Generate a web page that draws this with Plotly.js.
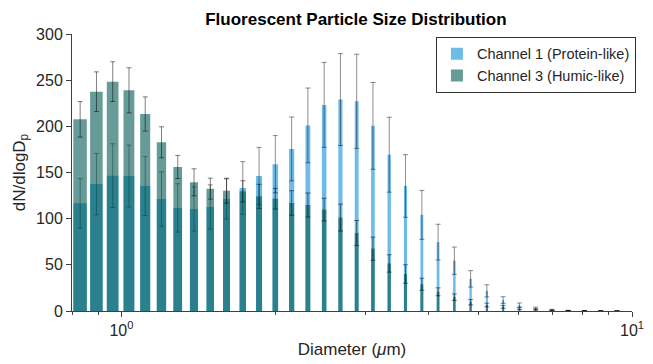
<!DOCTYPE html>
<html>
<head>
<meta charset="utf-8">
<script src="https://cdn.plot.ly/plotly-3.0.1.min.js"></script>
<style>html,body{margin:0;padding:0;background:#fff;}#chart{width:653px;height:364px;}</style>
</head>
<body>
<div id="chart"></div>
<script>
// Bin centre diameters (µm)
const diameters = [0.830, 0.8934, 0.9613, 1.0345, 1.1131, 1.1979, 1.2890, 1.3871, 1.4927, 1.6063,
  1.7284, 1.8600, 2.0015, 2.1544, 2.3182, 2.4947, 2.6846, 2.8889, 3.1088, 3.3454,
  3.6000, 3.8759, 4.1703, 4.4878, 4.8295, 5.1971, 5.5926, 6.0183, 6.4763, 6.9693,
  7.4989, 8.0698, 8.6842, 9.3457];

// Channel 1 (Protein-like) mean dN/dlogDp and error
const ch1Values = [116.6, 137.5, 146.6, 146.2, 135.4, 121.3, 111.6, 110.5, 112.6, 121.3,
  133.2, 146.2, 159.0, 175.5, 201.0, 223.2, 229.0, 227.1, 200.5, 169.3,
  135.4, 104.1, 74.6, 54.5, 34.8, 21.8, 11.9, 6.5, 3.2, 1.3,
  0.6, 0.4, 0.3, 0.2];
const ch1Errors = [26.7, 33.2, 34.5, 33.5, 32.0, 29.5, 26.2, 24.0, 24.0, 21.8,
  28.5, 31.0, 31.0, 34.6, 40.5, 46.0, 49.8, 51.0, 47.0, 40.6,
  33.9, 26.5, 19.4, 14.8, 8.9, 6.6, 3.6, 2.2, 1.0, 0.5,
  0.2, 0.15, 0.1, 0.1];

// Channel 3 (Humic-like) mean dN/dlogDp and error
const ch3Values = [207.6, 237.5, 248.4, 239.0, 213.4, 182.7, 156.0, 139.4, 132.5, 130.3,
  129.6, 124.2, 121.6, 117.0, 114.8, 109.8, 101.2, 84.5, 67.5, 51.5,
  40.1, 29.0, 20.8, 15.0, 9.5, 6.5, 4.5, 2.5, 1.5, 0.8,
  0.4, 0.2, 0.1, 0.1];
const ch3Errors = [19.3, 21.5, 21.5, 24.4, 18.5, 16.8, 12.5, 14.6, 11.4, 13.5,
  11.5, 13.0, 11.2, 13.3, 13.0, 12.3, 14.6, 13.5, 12.5, 9.4,
  10.0, 6.5, 4.3, 3.5, 2.9, 2.0, 1.5, 1.0, 0.6, 0.3,
  0.15, 0.1, 0.05, 0.05];

const seriesNames = ['Channel 1 (Protein-like)', 'Channel 3 (Humic-like)'];
const xTickVals = [1, 10];
const xTickText = ['10<sup>0</sup>', '10<sup>1</sup>'];
const xMinorVals = [0.8, 0.9, 2, 3, 4, 5, 6, 7, 8, 9];

const barWidth = 0.0506;
const axisColor = '#404040';
const textColor = '#262626';
const font = 'Liberation Sans, Arial, Helvetica, sans-serif';

const traces = [
  {
    type: 'bar', name: seriesNames[0], x: diameters, y: ch1Values, width: barWidth,
    marker: {color: 'rgba(30,150,220,0.65)', line: {width: 0}},
    error_y: {type: 'data', array: ch1Errors, visible: true, color: 'rgba(0,0,0,0.45)', thickness: 1, width: 2.5}
  },
  {
    type: 'bar', name: seriesNames[1], x: diameters, y: ch3Values, width: barWidth,
    marker: {color: 'rgba(0,88,82,0.6)', line: {width: 0}},
    error_y: {type: 'data', array: ch3Errors, visible: true, color: 'rgba(0,0,0,0.5)', thickness: 1, width: 2.5}
  }
];

const layout = {
  width: 653, height: 364,
  margin: {l: 72, r: 21, t: 34, b: 53},
  paper_bgcolor: '#fff', plot_bgcolor: '#fff',
  barmode: 'overlay',
  font: {family: font, size: 16, color: textColor},
  title: {text: '<b>Fluorescent Particle Size Distribution</b>', x: 0.507, xref: 'paper', xanchor: 'center', y: 0.948, yanchor: 'middle',
          font: {family: font, size: 17, color: '#000'}},
  xaxis: {
    type: 'log', range: [Math.log10(0.8), 1],
    tickvals: xTickVals, ticktext: xTickText,
    ticks: 'outside', ticklen: 5, tickcolor: axisColor, tickwidth: 1,
    minor: {tickvals: xMinorVals, ticks: 'outside', ticklen: 3, tickcolor: axisColor, showgrid: false},
    showline: true, linecolor: axisColor, linewidth: 1, mirror: false,
    showgrid: false, zeroline: false,
    tickfont: {size: 16, color: textColor},
    title: {text: 'Diameter (<i>μ</i>m)', font: {size: 17, color: textColor}, standoff: 4}
  },
  yaxis: {
    range: [0, 300], dtick: 50,
    ticks: 'outside', ticklen: 5, tickcolor: axisColor, tickwidth: 1,
    showline: true, linecolor: axisColor, linewidth: 1, mirror: false,
    showgrid: false, zeroline: false,
    tickfont: {size: 16, color: textColor},
    title: {text: 'dN/dlogD<sub>p</sub>', font: {size: 17, color: textColor}, standoff: 6}
  },
  legend: {
    x: 1.007, xanchor: 'right', y: 0.99, yanchor: 'top',
    bgcolor: '#fff', bordercolor: '#333', borderwidth: 1,
    font: {size: 14.5, color: textColor},
    traceorder: 'normal', itemwidth: 30, tracegroupgap: 0
  },
  showlegend: true
};

Plotly.newPlot('chart', traces, layout, {displayModeBar: false, staticPlot: true});
</script>
</body>
</html>
